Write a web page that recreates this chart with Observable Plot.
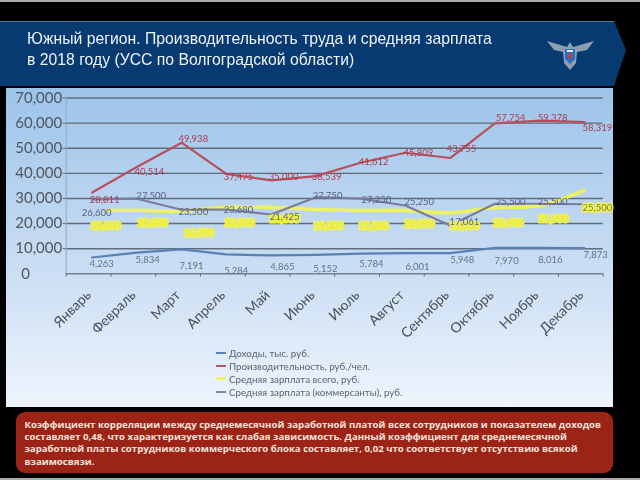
<!DOCTYPE html>
<html lang="ru"><head><meta charset="utf-8">
<script src="https://cdn.jsdelivr.net/npm/d3@7"></script>
<script src="https://cdn.jsdelivr.net/npm/@observablehq/plot@0.6"></script>
<style>
html,body{margin:0;padding:0;background:#000;width:640px;height:480px;overflow:hidden}
#page{position:relative;width:640px;height:480px;filter:blur(.45px);font-family:Lato,sans-serif}
.strip{position:absolute;left:0;width:640px;background:#a9aca9}
#banner{position:absolute;left:0;top:21px;width:626px;height:65px;background:#073a70;
 clip-path:polygon(0 0,614px 0,626px 29px,614px 65px,0 65px);border-top:1px solid #4a7ea6;box-sizing:border-box}
#title{position:absolute;left:27px;top:29px;color:#eef3f8;font:15.75px/20.5px "Liberation Sans",sans-serif;white-space:nowrap;margin:0;font-weight:normal}
#panel{position:absolute;left:6px;top:88px;width:607px;height:319px;background:linear-gradient(#9dc4ea,#c9ddf3 55%,#eef4fd)}
#chart{position:absolute;left:0;top:0}
#chart svg{background:transparent}
#legend{position:absolute;left:216px;top:346.5px;font-size:9.75px;line-height:13.2px;color:#5d646e;white-space:nowrap}
#legend i{display:inline-block;width:10px;height:2px;margin:0 3px 3px 0;vertical-align:middle}
#note{position:absolute;left:16px;top:412px;width:597px;height:61px;border-radius:9px;background:#9c2416;box-sizing:border-box;
 padding:7px 0 0 8.5px;color:#f4e4dc;font:bold 9.65px/12.2px "Open Sans",sans-serif;white-space:nowrap}
</style></head><body>
<div id="page">
<div class="strip" style="top:0;height:2px"></div>
<div class="strip" style="top:478px;height:2px"></div>
<div id="banner"></div>
<h1 id="title">Южный регион. Производительность труда и средняя зарплата<br>в 2018 году (УСС по Волгоградской области)</h1>
<svg style="position:absolute;left:547px;top:38px" width="47" height="33" viewBox="0 0 47 33">
<path d="M0 3 L20 9 L23 4 L26 9 L47 3 L40 12 L30 14 L29 25 L23 32 L17 25 L16 14 L7 12Z" fill="#8d9eb0"/>
<path d="M18 11 H28 V21 L23 26 L18 21Z" fill="#2f6fc0"/><circle cx="23" cy="18" r="2.4" fill="#c0404a"/><path d="M20 12h6v2h-6z" fill="#e6edf4"/></svg>
<div id="panel"></div>
<div id="chart"></div>
<div id="legend">
<div><i style="background:#5c86b8"></i>Доходы, тыс. руб.</div>
<div><i style="background:#b85560"></i>Производительность, руб./чел.</div>
<div><i style="background:#eef26a;height:3px"></i>Средняя зарплата всего, руб.</div>
<div><i style="background:#84849c"></i>Средняя зарплата (коммерсанты), руб.</div>
</div>
<div id="note">Коэффициент корреляции между среднемесячной заработной платой всех сотрудников и показателем доходов<br>составляет 0,48, что характеризуется как слабая зависимость. Данный коэффициент для среднемесячной<br>заработной платы сотрудников коммерческого блока составляет, 0,02 что  соответствует отсутствию всякой<br>взаимосвязи.</div>
</div>
<script>
const months = ["Январь","Февраль","Март","Апрель","Май","Июнь","Июль","Август","Сентябрь","Октябрь","Ноябрь","Декабрь"];
const monthIndex = months.map((_, i) => i);
const yTicks = [10000,20000,30000,40000,50000,60000,70000];

const income = [6500,8400,9700,7700,7300,7500,8000,8200,8200,10300,10300,10200];
const productivity = [32400,42500,52200,39800,37200,38900,44200,48200,46100,59900,61000,60400];
const salaryAll = [25200,25300,25000,26500,26500,25600,25200,25200,24300,26300,27200,33200];
const salaryAllX = [0.33,1,2,3,4,5,6,7,8,9,10,11];
const salaryCommerce = [29600,29900,25500,25600,23600,30500,29900,27200,19250,27900,27900,27700];

const incomeLabels = ["4,263","5,834","7,191","5,284","4,865","5,152","5,784","6,001","5,948","7,970","8,016","7,873"];
const incomeLabelX = [0.29,1.32,2.30,3.30,4.33,5.29,6.32,7.35,8.35,9.34,10.32,11.33];
const incomeLabelY = [4100,5700,3310,1040,2790,1990,3980,2910,5700,5300,5700,7570];

const prodLabels = ["28,811","40,514","49,938","37,475","35,000","38,539","41,612","45,809","43,755","57,754","59,378","58,319"];
const prodLabelX = [0.36,1.36,2.34,3.35,4.36,5.32,6.37,7.37,8.33,9.43,10.37,11.37];
const prodLabelY = [29600,40480,53500,38760,38370,38490,44460,48050,49800,62150,62150,58170];

const commerceLabels = ["26,600","27,500","23,500","23,680","21,425","27,750","27,250","25,250","17,061","25,500","25,500"];
const commerceLabelX = [0.18,1.40,2.34,3.35,4.38,5.34,6.43,7.39,8.40,9.43,10.37];
const commerceLabelY = [24420,31080,24820,25620,22710,31190,29600,28530,20840,28800,28800];

const allLabels = ["19,800","20,000","16,300","20,300","20,800","19,000","19,200","20,000","19,000","20,400","21,900","25,500"];
const allLabelX = [0.38,1.43,2.46,3.37,4.38,5.36,6.37,7.39,8.40,9.38,10.39,11.37];
const allLabelY = [19240,20160,16330,20320,22030,18960,19240,20040,18960,20440,21910,26410];

const C = {income:"#5a80b4", prod:"#b8505c", all:"#eef25e", com:"#7c7c9c"};
const labelFont = {fontSize:9.5, fontFamily:"Lato, sans-serif", lineAnchor:"middle"};
const labels = (t, x, y, fill) => Plot.text(t, {x:(_, i) => x[i], y:(_, i) => y[i], text:d => d, fill, ...labelFont});
const seriesLine = (y, stroke, w) => Plot.line(monthIndex, {x:i => i, y:i => y[i], stroke, strokeWidth:w, dx:3.5});

const fig = Plot.plot({
  width:640, height:480,
  marginLeft:65.7, marginRight:37.3, marginTop:97.5, marginBottom:206.7,
  style:{background:"transparent", overflow:"visible"},
  x:{type:"linear", domain:[-0.5,11.5], axis:null},
  y:{domain:[0,70000], axis:null},
  marks:[
    Plot.ruleY(yTicks, {stroke:"#5f6c7a", strokeWidth:1.4}),
    Plot.ruleY([0], {stroke:"#77818c", strokeWidth:1.4}),
    Plot.ruleX([-0.5], {stroke:"#98a8ba", strokeWidth:1}),
    Plot.axisY({ticks:yTicks, tickFormat:d3.format(","), tickSize:3, tickPadding:1, fontSize:15, fontFamily:"Lato, sans-serif", color:"#4f5660", stroke:"#5f6c7a", label:null}),
    Plot.axisX({ticks:monthIndex, tickFormat:i => months[i], tickSize:0, tickPadding:19, tickRotate:-45, fontSize:14, fontFamily:"Lato, sans-serif", color:"#4a4f58", textAnchor:"end", label:null}),
    Plot.ruleX(d3.range(-0.5,12,1), {y1:0, y2:-1300, stroke:"#5f6c7a", strokeWidth:1}),
    Plot.text(["0"], {x:[-0.5], y:[0], dx:-45, textAnchor:"start", fontSize:15, fontFamily:"Lato, sans-serif", fill:"#4f5660"}),
    Plot.line(monthIndex, {x:i => salaryAllX[i], y:i => salaryAll[i], stroke:C.all, strokeWidth:3.6, dx:3.5, curve:"catmull-rom"}),
    seriesLine(income, C.income, 2.2),
    seriesLine(productivity, C.prod, 2.2),
    seriesLine(salaryCommerce, C.com, 2.2),
    Plot.text(allLabels, {x:(_, i) => allLabelX[i], y:(_, i) => allLabelY[i], text:d => d, fill:(_, i) => i === 11 ? "#7f7f28" : "#e6e63c", stroke:"#f0f25a", strokeWidth:3, paintOrder:"stroke", ...labelFont}),
    labels(incomeLabels, incomeLabelX, incomeLabelY, "#5f7290"),
    labels(prodLabels, prodLabelX, prodLabelY, "#b23a4c"),
    labels(commerceLabels, commerceLabelX, commerceLabelY, "#5c6280")
  ]
});
document.getElementById("chart").appendChild(fig);
</script>
</body></html>
